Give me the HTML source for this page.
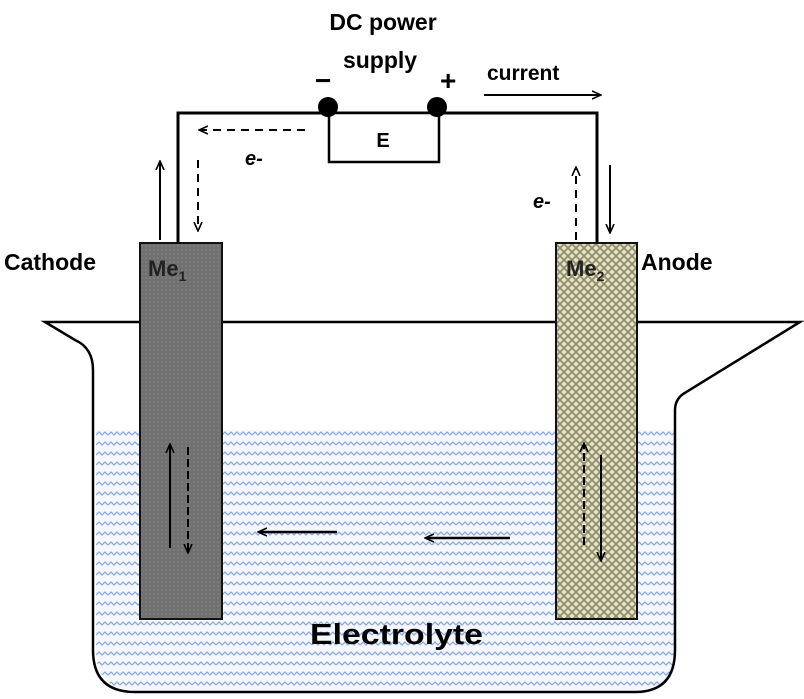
<!DOCTYPE html>
<html><head><style>
html,body{margin:0;padding:0;background:#fff;}
svg{display:block;font-family:"Liberation Sans",sans-serif;}
</style></head><body>
<svg width="804" height="699" viewBox="0 0 804 699" xmlns="http://www.w3.org/2000/svg">
<defs>
<pattern id="wave" width="12" height="10" patternUnits="userSpaceOnUse">
<rect width="12" height="10" fill="#f4f7fd"/>
<path d="M0 5 L3 2 L6 5 L9 2 L12 5" fill="none" stroke="#8fa8e0" stroke-width="1.3"/>
</pattern>
<pattern id="dots" width="4" height="4" patternUnits="userSpaceOnUse">
<rect width="4" height="4" fill="#707070"/>
<circle cx="2" cy="2" r="0.8" fill="#8a8a8a"/>
</pattern>
<pattern id="hatch" width="8" height="8" patternUnits="userSpaceOnUse">
<rect width="8" height="8" fill="#e6e4c8"/>
<path d="M0 0 L8 8 M8 0 L0 8" stroke="#8f8d6a" stroke-width="1.8"/>
</pattern>
<marker id="ah" markerWidth="10" markerHeight="10" refX="8" refY="5" orient="auto" markerUnits="userSpaceOnUse">
<path d="M0 1 L9 5 L0 9" fill="none" stroke="#000" stroke-width="1.6"/>
</marker>
</defs>

<!-- water -->
<path d="M96 430 H675 V650 Q675 690 635 690 H136 Q96 690 96 650 Z" fill="url(#wave)"/>
<!-- beaker -->
<path d="M45 322 H800 L683 394 Q675 400 675 410 V650 Q675 692 635 692 H135 Q93 692 93 650 V370 Q93 348 75 340 Z" fill="none" stroke="#000" stroke-width="2.5"/>

<!-- electrodes -->
<rect x="140" y="243" width="82" height="376" fill="url(#dots)" stroke="#111" stroke-width="2"/>
<rect x="556" y="243" width="81" height="376" fill="url(#hatch)" stroke="#111" stroke-width="2"/>

<!-- wire -->
<path d="M178 243 V113 H597 V243" fill="none" stroke="#000" stroke-width="3"/>
<rect x="329" y="113" width="110" height="49" fill="#fff" stroke="#000" stroke-width="2.5"/>
<circle cx="328" cy="107" r="10" fill="#000"/>
<circle cx="437" cy="107" r="10" fill="#000"/>
<text x="383" y="147" font-size="20" font-weight="bold" text-anchor="middle">E</text>

<text x="383" y="30" font-size="23" font-weight="bold" text-anchor="middle">DC power</text>
<text x="380" y="68" font-size="23" font-weight="bold" text-anchor="middle">supply</text>
<text x="315" y="90" font-size="28" font-weight="bold">−</text>
<text x="440" y="90" font-size="28" font-weight="bold">+</text>
<text x="487" y="80" font-size="21" font-weight="bold">current</text>
<line x1="484" y1="95" x2="600" y2="95" stroke="#000" stroke-width="2" marker-end="url(#ah)"/>

<line x1="305" y1="130" x2="200" y2="130" stroke="#000" stroke-width="2" stroke-dasharray="8,6" marker-end="url(#ah)"/>
<text x="245" y="165" font-size="20" font-style="italic" font-weight="bold">e-</text>
<line x1="198" y1="160" x2="198" y2="230" stroke="#000" stroke-width="2" stroke-dasharray="8,6" marker-end="url(#ah)"/>
<line x1="160" y1="240" x2="160" y2="162" stroke="#000" stroke-width="2" marker-end="url(#ah)"/>

<line x1="576" y1="240" x2="576" y2="168" stroke="#000" stroke-width="2" stroke-dasharray="8,6" marker-end="url(#ah)"/>
<text x="533" y="208" font-size="20" font-style="italic" font-weight="bold">e-</text>
<line x1="610" y1="165" x2="610" y2="232" stroke="#000" stroke-width="2" marker-end="url(#ah)"/>

<text x="4" y="270" font-size="23" font-weight="bold">Cathode</text>
<text x="641" y="270" font-size="23" font-weight="bold">Anode</text>
<text x="148" y="276" font-size="22" font-weight="bold" fill="#222">Me<tspan font-size="14" dy="5">1</tspan></text>
<text x="566" y="276" font-size="22" font-weight="bold" fill="#222">Me<tspan font-size="14" dy="5">2</tspan></text>

<line x1="170" y1="548" x2="170" y2="445" stroke="#000" stroke-width="2" marker-end="url(#ah)"/>
<line x1="188" y1="447" x2="188" y2="552" stroke="#000" stroke-width="2" stroke-dasharray="8,4" marker-end="url(#ah)"/>
<line x1="584" y1="545" x2="584" y2="444" stroke="#000" stroke-width="2" stroke-dasharray="8,4" marker-end="url(#ah)"/>
<line x1="601" y1="455" x2="601" y2="560" stroke="#000" stroke-width="2" marker-end="url(#ah)"/>

<line x1="337" y1="532" x2="259" y2="532" stroke="#000" stroke-width="2.5" marker-end="url(#ah)"/>
<line x1="510" y1="538" x2="426" y2="538" stroke="#000" stroke-width="2.5" marker-end="url(#ah)"/>

<text x="310" y="644" font-size="29" font-weight="bold" textLength="173" lengthAdjust="spacingAndGlyphs">Electrolyte</text>
</svg>
</body></html>
